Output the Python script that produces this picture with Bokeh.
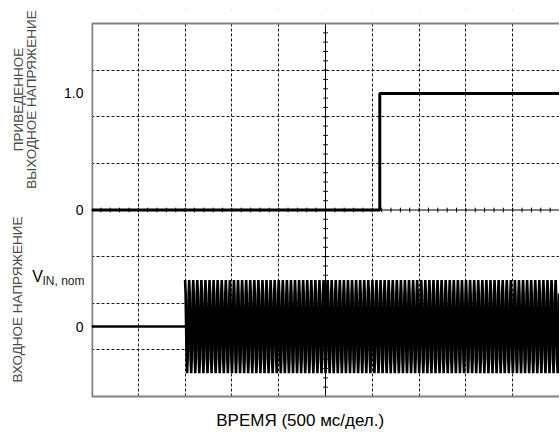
import numpy as np
from math import pi
from bokeh.plotting import figure
from bokeh.layouts import row
from bokeh.models import Range1d, FixedTicker, Span, Label, BoxAnnotation, Grid
from bokeh.core.properties import value
from bokeh.embed import file_html
from bokeh.resources import INLINE

# ---- data (time in divisions of 500 ms) ----
output_time = [0.0, 6.16, 6.16, 10.0]      # normalized output step
output_level = [0.0, 0.0, 1.0, 1.0]
idle_time = [0.0, 2.0]                      # input before the burst
idle_level = [0.0, 0.0]
burst_start = 2.0                           # AC input switched on
burst_end = 10.0
burst_amplitude = 1.0                       # in units of V_IN,nom
burst_period = 0.087                        # divisions per cycle (as displayed)

y_tick_pos = [2.5, 0.0, -2.5]               # screen divisions
y_tick_labels = ["1.0", "0", "0"]
vin_nom_pos = -1.5
x_title = "ВРЕМЯ (500 мс/дел.)"

FONT = "Liberation Sans"
H = 431
GRAT_H = 373                                 # graticule height in px (8 divisions)
EXT_T = 13                                   # blank space above graticule inside frame
EXT_B = 35                                   # blank space below graticule inside frame
TOP = H - GRAT_H - EXT_T - EXT_B
scale = GRAT_H / 8.0
ext_t = EXT_T / scale
ext_b = EXT_B / scale

# ---- main oscilloscope figure ----
p = figure(width=468, height=H, x_range=Range1d(0, 10), y_range=Range1d(-4 - ext_b, 4 + ext_t),
           x_axis_location=None, y_axis_location=None,
           output_backend="svg", toolbar_location=None,
           min_border_left=0, min_border_right=0, min_border_top=TOP, min_border_bottom=0)
p.extra_y_ranges = {"out": Range1d(-1.6 - 0.4 * ext_b, 1.6 + 0.4 * ext_t),
                    "in": Range1d(-1.5 - ext_b, 6.5 + ext_t)}
p.outline_line_color = None
for g in list(p.grid):
    g.visible = False

for dim, ticks in ((0, [1, 2, 3, 4, 6, 7, 8, 9]), (1, [-3, -2, -1, 1, 2, 3])):
    p.add_layout(Grid(dimension=dim, ticker=FixedTicker(ticks=ticks), grid_line_color="#1a1a1a",
                      grid_line_dash="3 2", grid_line_width=1))

# centre cross with small graticule ticks
tx = np.arange(0.2, 10.0, 0.2)
p.segment(x0=tx, y0=-0.05, x1=tx, y1=0.05, line_color="black", line_width=1)
ty = np.arange(-3.8, 4.0, 0.2)
p.segment(x0=5 - 0.05, y0=ty, x1=5 + 0.05, y1=ty, line_color="black", line_width=1)
# left frame border
p.segment(x0=[0], y0=[-4], x1=[0], y1=[4], line_color="#808080", line_width=3.5)

# traces
p.line(output_time, output_level, y_range_name="out", line_color="black", line_width=3)
p.line(idle_time, idle_level, y_range_name="in", line_color="black", line_width=2.5)
bt = np.arange(burst_start, burst_end, burst_period / 8)
bv = burst_amplitude * np.sin(2 * pi * (bt - burst_start) / burst_period + pi / 2)
p.line(bt, bv, y_range_name="in", line_color="black", line_width=2.6)

p.add_layout(Span(location=5, dimension="height", line_color="black", line_width=1))
p.add_layout(Span(location=0, dimension="width", line_color="black", line_width=1))
# blank margins above and below the graticule
p.add_layout(BoxAnnotation(bottom=4, fill_color="white", fill_alpha=1.0, line_color=None))
p.add_layout(BoxAnnotation(top=-4, fill_color="white", fill_alpha=1.0, line_color=None))
# top and bottom frame border
for loc in (4, -4):
    p.add_layout(Span(location=loc, dimension="width", line_color="#808080", line_width=2))

p.add_layout(Label(x=2.665, y=-4.515, text=x_title, text_align="left", text_baseline="middle",
                   text_font=FONT, text_font_size="17px", text_color="black"))

# ---- left label strip (frame aligned with the main frame) ----
left = figure(width=91, height=H, x_range=Range1d(0, 91), y_range=Range1d(-4 - ext_b, 4 + ext_t),
              x_axis_location=None, y_axis_location=None,
              output_backend="svg", toolbar_location=None,
              min_border_left=0, min_border_right=0, min_border_top=TOP, min_border_bottom=0)
for g in list(left.grid):
    g.visible = False
left.outline_line_color = None

gray = "#4a4a4a"
left.text(x=[18, 31], y=[2.37, 2.37], text=["ПРИВЕДЕННОЕ", "ВЫХОДНОЕ НАПРЯЖЕНИЕ"],
          angle=pi / 2, text_align="center", text_baseline="middle",
          text_font=value(FONT), text_font_size="13.5px", text_color=gray)
left.text(x=[17], y=[-1.92], text=["ВХОДНОЕ НАПРЯЖЕНИЕ"],
          angle=pi / 2, text_align="center", text_baseline="middle",
          text_font=value(FONT), text_font_size="13.5px", text_color=gray)
left.text(x=[83] * len(y_tick_pos), y=y_tick_pos, text=y_tick_labels,
          text_align="right", text_baseline="middle",
          text_font=value(FONT), text_font_size="14px", text_color="black")
left.text(x=[42.5], y=[vin_nom_pos + 0.07], text=["V"], text_align="right", text_baseline="middle",
          text_font=value(FONT), text_font_size="16px", text_color="black")
left.text(x=[84], y=[vin_nom_pos - 0.03], text=["IN, nom"], text_align="right",
          text_baseline="middle", text_font=value(FONT), text_font_size="12px",
          text_color="#222222")

layout = row(left, p)
open("out.html", "w").write(file_html(layout, INLINE))
